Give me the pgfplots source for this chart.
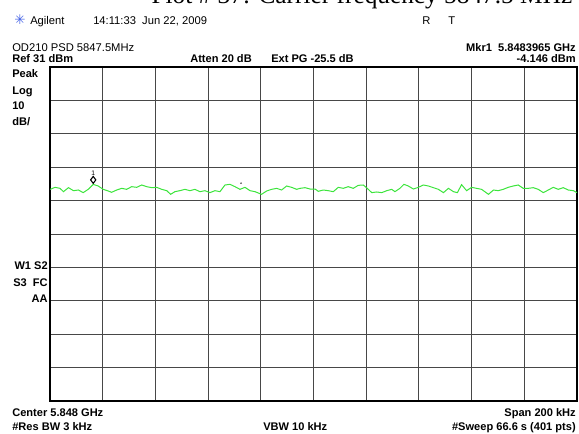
\documentclass[border=0pt]{standalone}
\usepackage{pgfplots}
\pgfplotsset{compat=1.18}
\usepackage{fontspec}
\setmainfont{Liberation Sans}
\newfontfamily\titlefont{Liberation Serif}
\newfontfamily\symfont{DejaVu Sans}
\definecolor{trace}{RGB}{60,228,60}
\definecolor{agblue}{RGB}{70,100,230}
\begin{document}
\begin{tikzpicture}[x=0.75pt,y=0.75pt]
\useasboundingbox (0,0) rectangle (579,433);
\begin{axis}[at={(37.5pt,24pt)}, anchor=south west, scale only axis,
  width=395.25pt, height=250.5pt,
  xmin=-100, xmax=100, ymin=-69, ymax=31,
  xtick={-80,-60,...,80}, ytick={-59,-49,...,21},
  xticklabels={}, yticklabels={}, major tick length=0pt,
  grid=major, major grid style={black!72, line width=0.65pt},
  axis line style={black, line width=1.2pt}]
\addplot[trace, line width=0.75pt] coordinates {
(-99.9,-5.63) (-98.1,-5.03) (-96.2,-5.33) (-94.9,-6.33) (-93.0,-5.13) (-91.1,-6.03)
(-89.2,-5.83) (-87.4,-6.62) (-85.5,-5.63) (-83.6,-4.15) (-81.7,-4.63) (-79.8,-5.63)
(-77.9,-6.13) (-76.6,-6.52) (-74.7,-5.83) (-72.8,-5.33) (-70.9,-5.63) (-69.0,-4.83)
(-67.1,-5.03) (-65.2,-4.33) (-63.3,-4.83) (-61.4,-5.13) (-59.5,-5.03) (-57.6,-5.63)
(-55.7,-6.03) (-54.2,-7.12) (-52.6,-6.33) (-50.7,-6.03) (-48.8,-5.63) (-46.9,-6.03)
(-45.0,-5.63) (-43.1,-6.33) (-41.2,-6.03) (-39.3,-6.62) (-37.4,-6.03) (-35.5,-6.33)
(-33.6,-4.33) (-31.7,-4.13) (-29.8,-4.83) (-27.9,-5.63) (-26.0,-5.03) (-24.1,-6.03)
(-22.2,-6.33) (-19.7,-7.12) (-17.8,-6.13) (-15.9,-5.63) (-14.0,-5.33) (-12.1,-5.83)
(-10.2,-4.63) (-8.3,-5.03) (-6.4,-5.63) (-5.1,-5.33) (-3.2,-5.13) (-1.3,-5.53)
(0.6,-5.53) (1.8,-6.23) (3.7,-5.83) (5.6,-6.03) (7.5,-6.33) (9.4,-5.03)
(11.3,-5.33) (13.2,-4.83) (15.1,-5.33) (17.0,-4.43) (18.9,-4.33) (20.4,-5.33)
(22.1,-6.62) (24.0,-6.42) (25.9,-6.62) (27.8,-6.03) (29.7,-5.63) (30.9,-6.33)
(32.8,-5.33) (34.3,-4.13) (36.0,-4.63) (37.9,-5.53) (39.8,-5.03) (41.7,-4.33)
(43.6,-4.63) (45.5,-5.13) (47.4,-5.63) (49.3,-6.62) (51.2,-5.33) (53.1,-6.33)
(54.6,-6.62) (56.2,-4.23) (58.1,-6.03) (60.0,-5.03) (61.9,-5.33) (63.8,-5.63)
(66.4,-7.12) (68.3,-5.83) (70.1,-6.03) (72.0,-5.63) (73.9,-5.03) (75.8,-4.63)
(77.7,-4.33) (79.6,-5.33) (81.5,-5.33) (83.4,-5.13) (85.3,-5.63) (87.2,-6.62)
(89.1,-5.83) (91.0,-5.03) (92.9,-5.63) (94.8,-5.13) (96.7,-5.83) (98.6,-6.03)
(100.0,-6.62)};
\addplot[only marks, mark=diamond*, mark size=2.6pt,
  mark options={fill=white, draw=black, line width=0.8pt}] coordinates {(-83.6,-2.8)};
\addplot[only marks, mark=*, mark size=0.45pt, black!60] coordinates {(-27.5,-3.8)};
\node[font=\fontsize{5}{5}\selectfont] at (axis cs:-83.6,-0.9) {1};
\end{axis}
% title (cut by the page top)
\node[anchor=base east, font=\titlefont\fontsize{19}{19}\selectfont] at (577,429) {Plot \# 37: Carrier frequency 5847.5 MHz};
% header
\node[anchor=base west, inner sep=0pt, text=agblue, font=\symfont\fontsize{10}{10}\selectfont] at (14,408) {✳};
\node[anchor=base west, inner sep=0pt, font=\fontsize{8.4}{10}\selectfont] at (30,408) {Agilent};
\node[anchor=base west, inner sep=0pt, font=\fontsize{8.4}{10}\selectfont] at (93,408) {14:11:33\ \ Jun 22, 2009};
\node[anchor=base west, inner sep=0pt, font=\fontsize{8.4}{10}\selectfont] at (422,408) {R};
\node[anchor=base west, inner sep=0pt, font=\fontsize{8.4}{10}\selectfont] at (448,408) {T};
% status rows
\node[anchor=base west, inner sep=0pt, font=\fontsize{8.4}{10}\selectfont] at (12,381) {OD210 PSD 5847.5MHz};
\node[anchor=base east, inner sep=0pt, font=\bfseries\fontsize{8.3}{10}\selectfont] at (576,381) {Mkr1\ \ 5.8483965 GHz};
\node[anchor=base west, inner sep=0pt, font=\bfseries\fontsize{8.3}{10}\selectfont] at (12,370) {Ref 31 dBm};
\node[anchor=base west, inner sep=0pt, font=\bfseries\fontsize{8.3}{10}\selectfont] at (190,370) {Atten 20 dB};
\node[anchor=base west, inner sep=0pt, font=\bfseries\fontsize{8.3}{10}\selectfont] at (271,370) {Ext PG -25.5 dB};
\node[anchor=base east, inner sep=0pt, font=\bfseries\fontsize{8.3}{10}\selectfont] at (576,370) {-4.146 dBm};
% left annotations
\node[anchor=base west, inner sep=0pt, font=\bfseries\fontsize{8.3}{10}\selectfont] at (12,355) {Peak};
\node[anchor=base west, inner sep=0pt, font=\bfseries\fontsize{8.3}{10}\selectfont] at (12,339) {Log};
\node[anchor=base west, inner sep=0pt, font=\bfseries\fontsize{8.3}{10}\selectfont] at (12,323) {10};
\node[anchor=base west, inner sep=0pt, font=\bfseries\fontsize{8.3}{10}\selectfont] at (12,307) {dB/};
\node[anchor=base east, inner sep=0pt, font=\bfseries\fontsize{8.3}{10}\selectfont] at (48,164) {W1\ S2};
\node[anchor=base east, inner sep=0pt, font=\bfseries\fontsize{8.3}{10}\selectfont] at (48,147) {S3\ \ FC};
\node[anchor=base east, inner sep=0pt, font=\bfseries\fontsize{8.3}{10}\selectfont] at (48,131) {AA};
% bottom rows
\node[anchor=base west, inner sep=0pt, font=\bfseries\fontsize{8.3}{10}\selectfont] at (12,17) {Center 5.848 GHz};
\node[anchor=base east, inner sep=0pt, font=\bfseries\fontsize{8.3}{10}\selectfont] at (576,17) {Span 200 kHz};
\node[anchor=base west, inner sep=0pt, font=\bfseries\fontsize{8.3}{10}\selectfont] at (12,3) {\#Res BW 3 kHz};
\node[anchor=base west, inner sep=0pt, font=\bfseries\fontsize{8.3}{10}\selectfont] at (263,3) {VBW 10 kHz};
\node[anchor=base east, inner sep=0pt, font=\bfseries\fontsize{8.3}{10}\selectfont] at (576,3) {\#Sweep 66.6 s (401 pts)};
\end{tikzpicture}
\end{document}
